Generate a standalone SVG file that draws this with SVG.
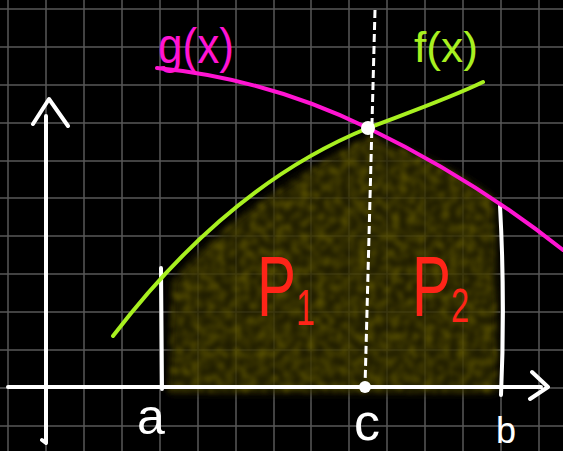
<svg xmlns="http://www.w3.org/2000/svg" width="563" height="451" viewBox="0 0 563 451">
<style>
.grid line{stroke:#595959;stroke-width:1.5}
.w{stroke:#fff;fill:none;stroke-width:4;stroke-linecap:round;stroke-linejoin:round}
.lbl{font-family:"Liberation Sans",Arial,sans-serif}
.p{fill:#ff2418}
</style>
<defs>
<filter id="grain" x="-5%" y="-5%" width="110%" height="110%">
<feTurbulence type="fractalNoise" baseFrequency="0.12" numOctaves="2" seed="4" result="n"/>
<feColorMatrix in="n" type="matrix" values="0 0 0 0 0  0 0 0 0 0  0 0 0 0 0  0 0 0 2.2 -0.8" result="a"/>
<feComposite in="SourceGraphic" in2="a" operator="in" result="t"/>
<feGaussianBlur in="t" stdDeviation="2"/>
</filter>
<filter id="soft" x="-5%" y="-5%" width="110%" height="110%"><feGaussianBlur stdDeviation="5"/></filter>
</defs>
<rect width="563" height="451" fill="#000"/>
<g id="grid" class="grid">
<line x1="8" y1="0" x2="8" y2="451"/><line x1="46" y1="0" x2="46" y2="451"/><line x1="84" y1="0" x2="84" y2="451"/><line x1="122" y1="0" x2="122" y2="451"/><line x1="160" y1="0" x2="160" y2="451"/><line x1="198" y1="0" x2="198" y2="451"/><line x1="236" y1="0" x2="236" y2="451"/><line x1="274" y1="0" x2="274" y2="451"/><line x1="311" y1="0" x2="311" y2="451"/><line x1="349" y1="0" x2="349" y2="451"/><line x1="387" y1="0" x2="387" y2="451"/><line x1="425" y1="0" x2="425" y2="451"/><line x1="463" y1="0" x2="463" y2="451"/><line x1="501" y1="0" x2="501" y2="451"/><line x1="539" y1="0" x2="539" y2="451"/>
<line x1="0" y1="9" x2="563" y2="9"/><line x1="0" y1="47" x2="563" y2="47"/><line x1="0" y1="85" x2="563" y2="85"/><line x1="0" y1="123" x2="563" y2="123"/><line x1="0" y1="161" x2="563" y2="161"/><line x1="0" y1="198" x2="563" y2="198"/><line x1="0" y1="236" x2="563" y2="236"/><line x1="0" y1="274" x2="563" y2="274"/><line x1="0" y1="312" x2="563" y2="312"/><line x1="0" y1="350" x2="563" y2="350"/><line x1="0" y1="388" x2="563" y2="388"/><line x1="0" y1="426" x2="563" y2="426"/>
</g>
<g id="area">
<path d="M172,282 C205,240 262,194 368,136 C420,152 468,176 495,200 L498,393 L168,393 Z" fill="#2a2500" opacity="0.8" filter="url(#soft)"/>
<path d="M172,282 C205,240 262,194 368,136 C420,152 468,176 495,200 L498,393 L168,393 Z" fill="#6e6400" opacity="0.75" filter="url(#grain)"/>
</g>
<g id="axes">
<path class="w" d="M8,387 L541,387 M532,372 L548,387 L530,399"/>
<path class="w" d="M42,440 L46,443 L46,116 M33,124 L49,99 L68,126"/>
<path class="w" d="M161,268 L162,389"/>
<path class="w" d="M500,206 C503,260 504,330 501,395"/>
</g>
<g id="curves">
<path d="M157,68 C230,75 300,95 368,128 C430,158 500,200 563,250" fill="none" stroke="#ff14d2" stroke-width="4" stroke-linecap="round"/>
<path d="M113,336 C175,255 260,172 368,128 C410,112 450,98 483,82" fill="none" stroke="#a8f020" stroke-width="4" stroke-linecap="round"/>
<path d="M375,10 L365,387" fill="none" stroke="#fff" stroke-width="3" stroke-dasharray="8 4"/>
<circle cx="368" cy="128" r="7" fill="#fff"/>
<circle cx="365" cy="387" r="6" fill="#fff"/>
</g>
<g id="labels" class="lbl">
<text x="158" y="63" font-size="50" fill="#ff14d2" textLength="76" lengthAdjust="spacingAndGlyphs">g(x)</text>
<text x="414" y="62" font-size="42" fill="#a8f020" textLength="64" lengthAdjust="spacingAndGlyphs">f(x)</text>
<text class="p" transform="translate(257,316) scale(0.68,1)"><tspan font-size="86">P</tspan><tspan font-size="50" dy="9">1</tspan></text>
<text class="p" transform="translate(412,316) scale(0.68,1)"><tspan font-size="86">P</tspan><tspan font-size="48" dy="6">2</tspan></text>
<text x="137" y="434" font-size="50" fill="#fff">a</text>
<text x="354" y="440" font-size="52" fill="#fff">c</text>
<text x="496" y="443" font-size="36" fill="#fff">b</text>
</g>
</svg>
